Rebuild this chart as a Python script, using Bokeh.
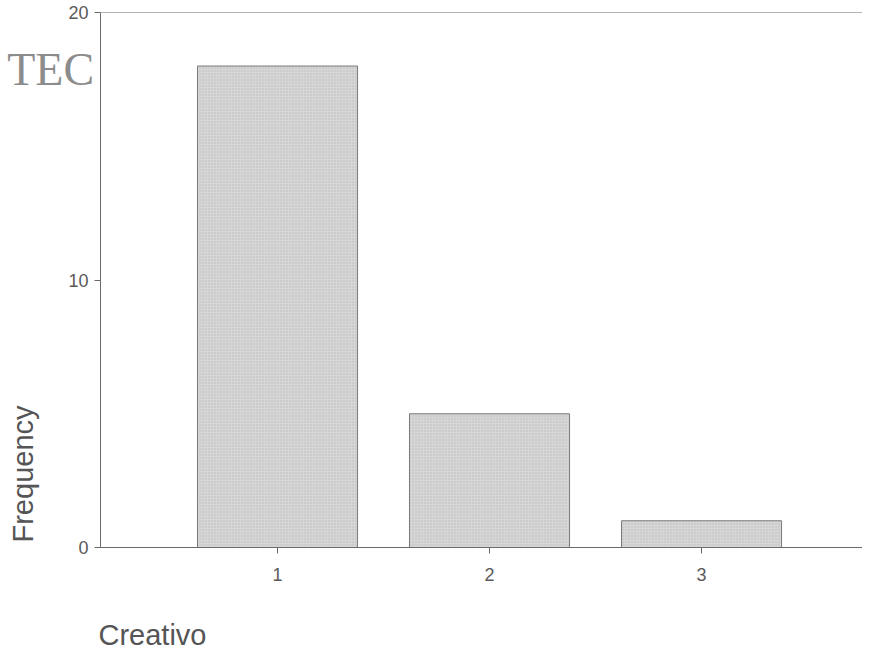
from bokeh.plotting import figure
from bokeh.models import Range1d, FixedTicker, Span, Title, LinearAxis
from bokeh.embed import file_html
from bokeh.resources import INLINE

# ---- data ----
categories = [1, 2, 3]
frequency = [18, 5, 1]
x_ticks = [1, 2, 3]
y_ticks = [0, 10, 20]
x_label = "Creativo"
y_label = "Frequency"
logo_text = "TEC"

X0, X1 = 0.165, 0.165 + 762 / 212
p = figure(width=862, height=652, output_backend="svg", toolbar_location=None,
           x_range=Range1d(X0, X1), y_range=Range1d(0, 20),
           min_border_left=100, min_border_right=0, min_border_top=12, min_border_bottom=104)
p.outline_line_color = None
p.background_fill_color = "white"
p.border_fill_color = "white"
p.xgrid.visible = False
p.ygrid.visible = False

p.vbar(x=categories, top=frequency, width=0.755, bottom=0,
       fill_color="#d6d6d6", line_color="#7a7a7a", line_width=1,
       hatch_pattern=".", hatch_color="#a8a8a8", hatch_scale=3, hatch_alpha=0.6)

for ax in (p.xaxis[0], p.yaxis[0]):
    ax.axis_line_color = "#6a6a6a"
    ax.axis_line_width = 1
    ax.major_tick_line_color = "#6a6a6a"
    ax.minor_tick_line_color = None
    ax.major_tick_in = 0
    ax.major_tick_out = 6
    ax.major_label_text_font = "Liberation Sans"
    ax.major_label_text_font_size = "18px"
    ax.major_label_text_color = "#5a5a5a"
    # invisible spacer label: pushes the titles further out
    ax.axis_label = "."
    ax.axis_label_text_alpha = 0
    ax.axis_label_text_font_size = "20px"

p.xaxis[0].ticker = FixedTicker(ticks=x_ticks)
p.yaxis[0].ticker = FixedTicker(ticks=y_ticks)
p.xaxis[0].major_label_standoff = 14
p.yaxis[0].major_label_standoff = 6
p.xaxis[0].axis_label_standoff = 18
p.yaxis[0].axis_label_standoff = 10

# top border line
p.add_layout(Span(location=y_ticks[-1], dimension="width", line_color="#6a6a6a", line_width=1))

# axis titles as side-panel titles (left aligned)
p.add_layout(Title(text=x_label, align="left", offset=-2, standoff=0, vertical_align="top",
                   text_font="Liberation Sans", text_font_size="29px", text_font_style="normal",
                   text_color="#555555"), "below")
p.add_layout(Title(text=y_label, align="left", offset=5, standoff=0,
                   text_font="Liberation Sans", text_font_size="29px", text_font_style="normal",
                   text_color="#555555"), "left")

# scanned logo text in the top-left corner, drawn as a label-only axis
p.extra_x_ranges = {"px": Range1d(0, 762)}
logo_axis = LinearAxis(x_range_name="px", ticker=FixedTicker(ticks=[0]),
                       major_label_overrides={0: logo_text + "\u00a0" * 11},
                       axis_line_color=None, major_tick_line_color=None, minor_tick_line_color=None,
                       major_tick_out=0, major_tick_in=0, major_label_standoff=-82,
                       major_label_text_baseline="alphabetic",
                       major_label_text_font="Liberation Serif", major_label_text_font_size="46px",
                       major_label_text_color="#8c8c8c")
p.add_layout(logo_axis, "above")

open("out.html", "w").write(file_html(p, INLINE))
